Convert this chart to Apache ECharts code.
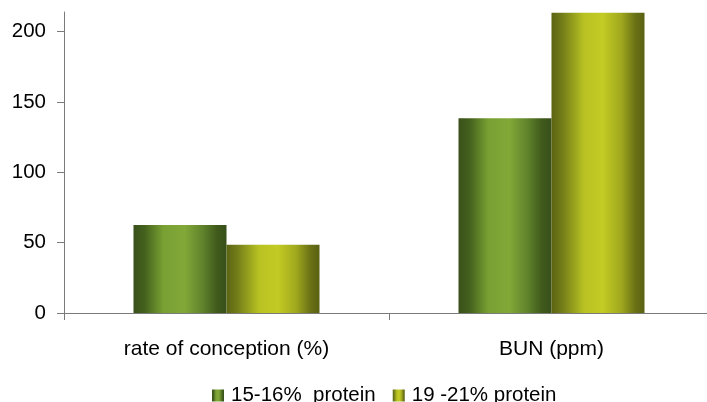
<!DOCTYPE html>
<html>
<head>
<meta charset="utf-8">
<script src="https://cdn.jsdelivr.net/npm/echarts@6/dist/echarts.min.js"></script>
<style>
  html, body { margin: 0; padding: 0; background: #ffffff; overflow: hidden; }
  #chart { width: 720px; height: 402px; }
</style>
</head>
<body>
<div id="chart"></div>
<script>
// Categories and the two diet groups
var categories = ['rate of conception (%)', 'BUN (ppm)'];
var seriesNames = ['15-16%  protein', '19 -21% protein'];
var lowProtein = [62.5, 138.5];
var highProtein = [48.5, 213.5];
var yTicks = [0, 50, 100, 150, 200];

// Cylinder-like horizontal shading for each series
function shade(stops) {
  return new echarts.graphic.LinearGradient(0, 0, 1, 0, stops.map(function (s) {
    return { offset: s[0], color: s[1] };
  }));
}
var greenFill = shade([
  [0, '#39501a'], [0.12, '#44611d'], [0.32, '#78a033'], [0.55, '#82a838'],
  [0.75, '#5e812b'], [0.9, '#40591b'], [1, '#37501a']
]);
var yellowFill = shade([
  [0, '#5c6412'], [0.12, '#747e19'], [0.35, '#b8c222'], [0.55, '#c3cb24'],
  [0.75, '#a0a81e'], [0.9, '#6a7216'], [1, '#5a6012']
]);

var axisGray = '#7a7a7a';
var font = 'Liberation Sans, Arial, sans-serif';

var chart = echarts.init(document.getElementById('chart'), null, { renderer: 'canvas' });
chart.setOption({
  animation: false,
  backgroundColor: '#ffffff',
  grid: { left: 64, top: 12, width: 650, height: 301, containLabel: false },
  legend: {
    left: 207,
    top: 380,
    itemWidth: 12,
    itemHeight: 12,
    itemGap: 17,
    icon: 'rect',
    textStyle: { fontFamily: font, fontSize: 20.5, color: '#000000', padding: [0, 0, 0, 2] },
    data: seriesNames
  },
  xAxis: {
    type: 'category',
    data: categories,
    axisLine: { lineStyle: { color: axisGray, width: 1 } },
    axisTick: { show: true, length: 7, lineStyle: { color: axisGray } },
    axisLabel: { margin: 26, fontFamily: font, fontSize: 21, color: '#000000' }
  },
  yAxis: {
    type: 'value',
    min: 0,
    max: 214,
    splitLine: { show: false },
    axisLine: { show: true, lineStyle: { color: axisGray, width: 1 } },
    axisTick: { show: true, length: 7, customValues: yTicks, lineStyle: { color: axisGray } },
    axisLabel: { margin: 18, customValues: yTicks, fontFamily: font, fontSize: 20.5, color: '#000000' }
  },
  series: [
    {
      name: seriesNames[0],
      type: 'bar',
      data: lowProtein,
      barWidth: 93,
      barGap: '0%',
      itemStyle: { color: greenFill }
    },
    {
      name: seriesNames[1],
      type: 'bar',
      data: highProtein,
      barWidth: 93,
      barGap: '0%',
      itemStyle: { color: yellowFill }
    }
  ]
});
</script>
</body>
</html>
